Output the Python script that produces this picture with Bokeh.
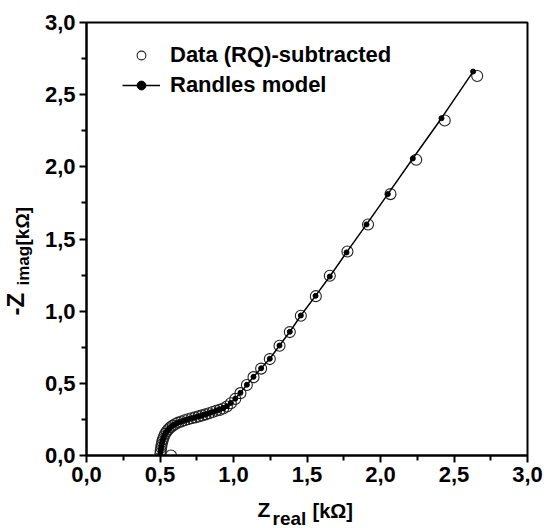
import math
from bokeh.plotting import figure
from bokeh.layouts import row, column
from bokeh.models import Range1d, FixedTicker, Legend, LegendItem
from bokeh.core.properties import value
from bokeh.embed import file_html
from bokeh.resources import INLINE

# ---- data (kOhm) ----
data_zreal = [0.575, 0.503, 0.505, 0.508, 0.511, 0.515, 0.520, 0.527, 0.535, 0.545,
              0.557, 0.571, 0.587, 0.605, 0.624, 0.645, 0.667, 0.690, 0.714, 0.738,
              0.762, 0.786, 0.810, 0.834, 0.858, 0.882, 0.906, 0.930, 0.955, 0.982,
              1.012, 1.047, 1.091, 1.136, 1.188, 1.247, 1.313, 1.383, 1.458, 1.560,
              1.655, 1.775, 1.915, 2.068, 2.243, 2.437, 2.658]
data_zimag = [0.000, 0.015, 0.035, 0.055, 0.075, 0.095, 0.113, 0.132, 0.150, 0.166,
              0.181, 0.195, 0.207, 0.218, 0.228, 0.236, 0.244, 0.251, 0.258, 0.264,
              0.271, 0.278, 0.285, 0.293, 0.301, 0.310, 0.316, 0.326, 0.340, 0.362,
              0.392, 0.432, 0.488, 0.543, 0.602, 0.668, 0.760, 0.855, 0.968, 1.104,
              1.245, 1.413, 1.600, 1.811, 2.049, 2.321, 2.629]

model_zreal = [0.502, 0.505, 0.508, 0.511, 0.515, 0.520, 0.527, 0.535, 0.545,
               0.557, 0.571, 0.587, 0.605, 0.624, 0.645, 0.667, 0.690, 0.714, 0.738,
               0.762, 0.786, 0.810, 0.834, 0.858, 0.882, 0.906, 0.930, 0.955, 0.982,
               1.012, 1.047, 1.091, 1.136, 1.188, 1.247, 1.313, 1.383, 1.458, 1.558,
               1.655, 1.769, 1.905, 2.050, 2.220, 2.415, 2.630]
model_zimag = [0.012, 0.035, 0.055, 0.075, 0.095, 0.113, 0.132, 0.150, 0.166,
               0.181, 0.195, 0.207, 0.218, 0.228, 0.236, 0.244, 0.251, 0.258, 0.264,
               0.271, 0.278, 0.285, 0.293, 0.301, 0.310, 0.318, 0.328, 0.342, 0.364,
               0.394, 0.434, 0.490, 0.545, 0.604, 0.670, 0.762, 0.857, 0.970, 1.106,
               1.240, 1.407, 1.601, 1.811, 2.058, 2.337, 2.660]

tick_values = [0.0, 0.5, 1.0, 1.5, 2.0, 2.5, 3.0]
tick_labels = ["0,0", "0,5", "1,0", "1,5", "2,0", "2,5", "3,0"]
minor_values = [0.25, 0.75, 1.25, 1.75, 2.25, 2.75]

# axis-title pieces (main text, subscript, unit)
x_title = ["Z", "real", "[kΩ]"]
y_title = ["-Z", "imag", "[kΩ]"]

FONT = "Liberation Sans"
W, H = 544, 528
LEFT_W = 38      # width of strip holding the y title
BOTTOM_H = 36    # height of strip holding the x title
FRAME_L, FRAME_R = 86, 527   # frame edges in page pixels

p = figure(width=W - LEFT_W, height=H - BOTTOM_H, output_backend="svg",
           toolbar_location=None, x_range=Range1d(0, 3), y_range=Range1d(0, 3),
           min_border_left=FRAME_L - LEFT_W, min_border_right=W - FRAME_R,
           min_border_top=22, min_border_bottom=37)
p.grid.visible = False
p.outline_line_color = "black"
p.outline_line_width = 2

overrides = {v: s for v, s in zip(tick_values, tick_labels)}
for ax in (p.xaxis[0], p.yaxis[0]):
    ax.ticker = FixedTicker(ticks=tick_values, minor_ticks=minor_values)
    ax.major_label_overrides = overrides
    ax.axis_line_width = 2
    ax.axis_line_color = "black"
    ax.major_tick_line_width = 2
    ax.minor_tick_line_width = 2
    ax.major_tick_out = 7
    ax.major_tick_in = 0
    ax.minor_tick_out = 5
    ax.minor_tick_in = 0
    ax.major_label_text_font = FONT
    ax.major_label_text_font_style = "bold"
    ax.major_label_text_font_size = "22px"
    ax.major_label_text_color = "black"
    ax.major_label_standoff = 4

r_data = p.scatter(data_zreal, data_zimag, size=11, marker="circle",
                   fill_alpha=0, line_color="#222222", line_width=1.1)
r_line = p.line(model_zreal, model_zimag, line_color="black", line_width=1.5)
r_dots = p.scatter(model_zreal, model_zimag, size=5, marker="circle",
                   fill_color="black", line_color="black")

legend = Legend(items=[LegendItem(label="Data (RQ)-subtracted", renderers=[r_data]),
                       LegendItem(label="Randles model", renderers=[r_line, r_dots])],
                location=(36, 357), margin=0, padding=0, spacing=4,
                glyph_width=38, glyph_height=22, label_standoff=10,
                label_text_font=FONT, label_text_font_style="bold",
                label_text_font_size="22px", label_text_color="black",
                background_fill_alpha=0, border_line_alpha=0)
p.add_layout(legend)


def strip(w, h, xr):
    f = figure(width=w, height=h, output_backend="svg", toolbar_location=None,
               x_range=xr, y_range=Range1d(0, h),
               x_axis_type=None, y_axis_type=None,
               min_border=0, min_border_left=0, min_border_right=0,
               min_border_top=0, min_border_bottom=0)
    f.grid.visible = False
    f.outline_line_color = None
    return f


# y-axis title strip (left): strip pixels, origin bottom-left
left = strip(LEFT_W, H, Range1d(0, LEFT_W))
left.text(x=[15, 23, 21.5], y=[H - 315, H - 285, H - 245], text=y_title,
          angle=math.pi / 2, text_font=value(FONT), text_font_style="bold",
          text_font_size=["24px", "17px", "19px"], text_color="black",
          text_align="left", text_baseline="alphabetic")

# x-axis title strip (bottom): its frame is aligned with the main frame,
# so map the range so that one unit = one page pixel (x measured from strip left)
bottom = strip(W - LEFT_W, BOTTOM_H, Range1d(FRAME_L - LEFT_W, FRAME_R - LEFT_W))
bottom.text(x=[257 - LEFT_W, 272 - LEFT_W, 312 - LEFT_W],
            y=[19.5, 10.5, 18],
            text=x_title, text_font=value(FONT), text_font_style="bold",
            text_font_size=["21px", "19px", "20px"], text_color="black",
            text_align="left", text_baseline="alphabetic")

layout = row(left, column(p, bottom, spacing=0), spacing=0)

open("out.html", "w").write(file_html(layout, INLINE))
